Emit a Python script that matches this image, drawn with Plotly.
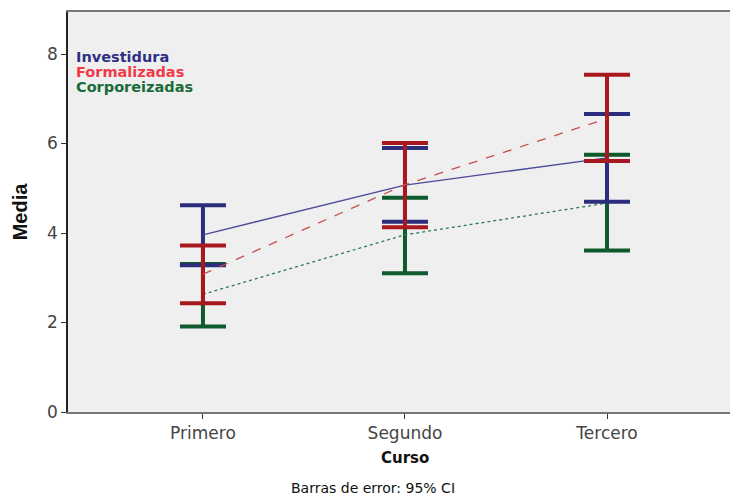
import plotly.graph_objects as go

cursos = ["Primero", "Segundo", "Tercero"]

inv_mean = [3.96, 5.07, 5.68]
inv_lo = [3.28, 4.25, 4.70]
inv_hi = [4.62, 5.90, 6.66]

for_mean = [3.08, 5.08, 6.56]
for_lo = [2.43, 4.13, 5.61]
for_hi = [3.72, 6.01, 7.54]

cor_mean = [2.63, 3.96, 4.67]
cor_lo = [1.91, 3.10, 3.61]
cor_hi = [3.31, 4.79, 5.75]

series = [
    ("Corporeizadas", cor_mean, cor_lo, cor_hi, "#2e7a4a", "dot", "#0f5a2d"),
    ("Investidura", inv_mean, inv_lo, inv_hi, "#4a4a9a", "solid", "#2d2d7d"),
    ("Formalizadas", for_mean, for_lo, for_hi, "#c4504f", "dash", "#a8191f"),
]

fig = go.Figure()
xs = [0, 1, 2]
for name, m, lo, hi, lc, dash, ec in series:
    fig.add_trace(go.Scatter(
        x=xs, y=m, mode="lines", name=name,
        line=dict(color=lc, width=1.3, dash=dash),
        error_y=dict(type="data", symmetric=False,
                     array=[h - v for h, v in zip(hi, m)],
                     arrayminus=[v - l for v, l in zip(m, lo)],
                     color=ec, thickness=4, width=23),
        showlegend=False,
    ))

W = 745
PL = 68
PT, PB = 12, 412
def py(ypx):
    return (PB - ypx) / (PB - PT)

legend_items = [("Investidura", "#2f2f85", 57), ("Formalizadas", "#f03a48", 72), ("Corporeizadas", "#1b6b3a", 87)]
for t, c, ypx in legend_items:
    fig.add_annotation(x=0, xref="paper", xanchor="left", xshift=6,
                       y=py(ypx), yref="paper", yanchor="middle",
                       text="<b>%s</b>" % t, showarrow=False,
                       font=dict(family="DejaVu Sans", size=14.5, color=c))

fig.add_annotation(x=1, xref="x", y=py(458), yref="paper", yanchor="middle",
                   text="<b>Curso</b>", showarrow=False,
                   font=dict(family="DejaVu Sans", size=15, color="#111"))

fig.add_annotation(x=(373 - PL) / (W - PL), xref="paper", y=py(488), yref="paper",
                   yanchor="middle", text="Barras de error: 95% CI", showarrow=False,
                   font=dict(family="DejaVu Sans", size=14, color="#111"))

fig.update_layout(
    width=W, height=495,
    margin=dict(l=PL, r=0, t=PT, b=495 - PB),
    paper_bgcolor="white", plot_bgcolor="#efefef",
    font=dict(family="DejaVu Sans", size=17, color="#444"),
    xaxis=dict(range=[-0.668, 2.683], tickmode="array", tickvals=xs, ticktext=cursos,
               ticks="outside", ticklen=5, tickcolor="#333", showgrid=False, zeroline=False,
               showline=True, linecolor="#777", linewidth=2, mirror=True),
    yaxis=dict(range=[0, 8.94], tickvals=[0, 2, 4, 6, 8], ticks="outside", ticklen=5,
               tickcolor="#333", showgrid=False, zeroline=False,
               showline=True, linecolor="#222", linewidth=1.5,
               title=dict(text="<b>Media</b>", font=dict(family="Liberation Sans", size=20, color="#111"), standoff=14)),
)

fig.write_html("out.html", config={"displayModeBar": False},
               post_script="document.body.style.margin='0px';document.body.style.overflow='hidden';")
